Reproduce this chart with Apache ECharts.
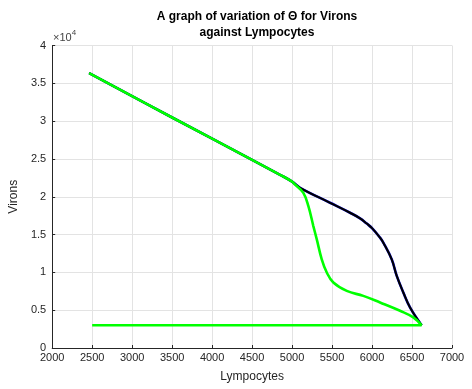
<!DOCTYPE html>
<html>
<head>
<meta charset="utf-8">
<script src="https://cdn.jsdelivr.net/npm/echarts@6/dist/echarts.min.js"></script>
<style>
html,body{margin:0;padding:0;background:#fff;}
#chart{width:472px;height:389px;}
</style>
</head>
<body>
<div id="chart"></div>
<script>
// Shared upper straight part of the trajectory
var upperX = [2462, 3500, 4500, 4850, 5000];
var upperY = [36350, 30480, 24880, 22900, 22010];
// Upper (black/blue) branch
var blackX = [5000, 5100, 5475, 5725, 5850, 5934, 6000, 6100, 6141, 6246, 6309, 6391, 6475, 6620];
var blackY = [22010, 21180, 19203, 17885, 17150, 16450, 15850, 14590, 13930, 11730, 9530, 7340, 5360, 3000];
// Lower (green) branch
var greenX = [5000, 5037, 5141, 5204, 5266, 5309, 5371, 5434, 5516, 5684, 5891, 6100, 6350, 6516, 6620];
var greenY = [22010, 21615, 20520, 18755, 16120, 14370, 11730, 9980, 8660, 7550, 6890, 6020, 4920, 4050, 3000];
// Baseline return
var baseX = [6620, 2500];
var baseY = [3000, 3000];

var xTicks = [2000, 2500, 3000, 3500, 4000, 4500, 5000, 5500, 6000, 6500, 7000];
var yTicks = [0, 0.5, 1, 1.5, 2, 2.5, 3, 3.5, 4];

function pairs(xs, ys){ return xs.map(function(x,i){ return [x, ys[i]]; }); }

var chart = echarts.init(document.getElementById('chart'));
var txt = '#262626';
var font = 'Liberation Sans, Arial, Helvetica, sans-serif';
var upperBlack = pairs(upperX, upperY).concat(pairs(blackX, blackY).slice(1));
var upperGreen = pairs(upperX, upperY).concat(pairs(greenX, greenY).slice(1));
chart.setOption({
  animation: false,
  backgroundColor: '#fff',
  title: {
    text: 'A graph of variation of \u0398 for Virons\nagainst Lympocytes',
    left: 252, top: 4, textAlign: 'center',
    textStyle: { fontSize: 12, fontWeight: 'bold', color: '#000', fontFamily: font, lineHeight: 16 }
  },
  grid: { left: 52, right: 20, top: 45.5, bottom: 41, containLabel: false },
  xAxis: {
    type: 'value', min: 2000, max: 7000, interval: 500,
    name: 'Lympocytes', nameLocation: 'middle', nameGap: 23,
    nameTextStyle: { fontSize: 12, color: txt, fontFamily: font },
    axisLine: { show: true, onZero: false, lineStyle: { color: txt, width: 1 } },
    axisTick: { show: true, inside: true, length: 3, lineStyle: { color: txt } },
    axisLabel: { fontSize: 11, color: txt, fontFamily: font, margin: 4,
      formatter: function(v){ return String(v); } },
    splitLine: { show: true, lineStyle: { color: '#e3e3e3', width: 1 } }
  },
  yAxis: {
    type: 'value', min: 0, max: 40000, interval: 5000,
    name: 'Virons', nameLocation: 'middle', nameGap: 32, nameRotate: 90,
    nameTextStyle: { fontSize: 12, color: txt, fontFamily: font },
    axisLine: { show: true, onZero: false, lineStyle: { color: txt, width: 1 } },
    axisTick: { show: true, inside: true, length: 3, lineStyle: { color: txt } },
    axisLabel: { fontSize: 11, color: txt, fontFamily: font, margin: 6,
      formatter: function(v){ return String(yTicks[Math.round(v/5000)]); } },
    splitLine: { show: true, lineStyle: { color: '#e3e3e3', width: 1 } }
  },
  graphic: [{
    type: 'text', left: 53, top: 29,
    style: {
      text: '{a|\u00d710}{b|4}',
      rich: {
        a: { fontSize: 11, fill: '#444', fontFamily: font, padding: [5,0,0,0] },
        b: { fontSize: 8, fill: '#444', fontFamily: font, padding: [0,0,5,0] }
      }
    }
  }],
  series: [
    { type: 'line', data: upperBlack, showSymbol: false, smooth: 0.4,
      lineStyle: { color: '#1010d0', width: 2.6 }, z: 2 },
    { type: 'line', data: upperBlack, showSymbol: false, smooth: 0.4,
      lineStyle: { color: '#000', width: 2 }, z: 3 },
    { type: 'line', data: upperGreen, showSymbol: false, smooth: 0.4,
      lineStyle: { color: '#00ff00', width: 2.6 }, z: 4 },
    { type: 'line', data: pairs(baseX, baseY), showSymbol: false,
      lineStyle: { color: '#00ff00', width: 2.6 }, z: 4 }
  ]
});
</script>
</body>
</html>
